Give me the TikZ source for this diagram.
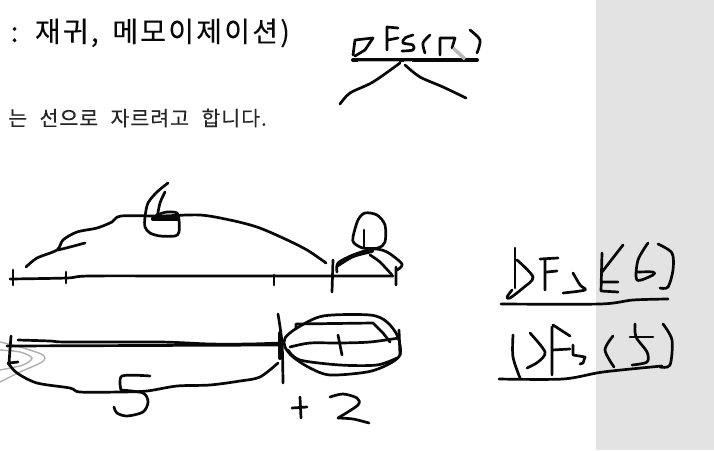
\documentclass[tikz,border=0pt]{standalone}
\usepackage{fontspec}
\usepackage{xcolor}
\usetikzlibrary{positioning}
\newfontfamily\krhead[WordSpace=1.6,LetterSpace=8,FakeBold=0.2]{Noto Sans CJK KR}
\newfontfamily\krnote[WordSpace=2.2,LetterSpace=5,FakeBold=0.2]{Noto Sans CJK KR}
\definecolor{panelgray}{RGB}{227,227,227}
\definecolor{ripplegray}{RGB}{175,175,175}
\definecolor{cursorgray}{RGB}{185,185,185}
\definecolor{inkblack}{RGB}{8,8,8}

\begin{document}
\begin{tikzpicture}[
  x=1pt, y=-1pt,
  ink/.style={draw=inkblack, line width=2.7pt, line cap=round, line join=round},
  heavy/.style={ink, line width=4pt},
  ripple/.style={draw=ripplegray, line width=1.4pt},
  heading/.style={font=\krhead\fontsize{28}{32}\selectfont, text=inkblack, inner sep=0pt, anchor=east},
  subline/.style={font=\krnote\fontsize{20.5}{24}\selectfont, text=black!85, inner sep=0pt, anchor=east},
]
\useasboundingbox (0,0) rectangle (714,450);
\clip (0,0) rectangle (714,450);
\fill[white] (0,0) rectangle (714,450);
\fill[panelgray] (596,0) rectangle (714,450);

\node[heading] (titleText) at (290,33) {: 재귀, 메모이제이션)};
\node[subline] (noteText) at (267,118) {는 선으로 자르려고 합니다.};

% top right
\draw[ink] (353,55) -- (355,40) -- (373,38) -- (365,50) -- (355,56);
\draw[ink] (387,50) -- (387,27) -- (398,28) (388,40) -- (398,38);
\draw[ink] plot[smooth] coordinates {(413,35) (405,38) (403,43) (413,45) (413,50) (402,51)};
\draw[ink] plot[smooth] coordinates {(430,35) (423,43) (425,53)};
\draw[ink] (440,55) -- (440,38) -- (455,38) -- (452,48);
\draw[ink] plot[smooth] coordinates {(470,30) (480,40) (477,53)};
\draw[heavy] (353,60) -- (477,60);
\draw[cursorgray, line width=1pt] (358,61) -- (399,61) (404,61) -- (412,61);
\draw[cursorgray, line width=3.5pt] (453,48) -- (465,59);
\draw[ink] plot[smooth] coordinates {(400,63) (373,82) (350,93) (340,104)};
\draw[ink] plot[smooth] coordinates {(405,65) (420,77) (443,87) (466,98)};

% upper line
\draw[ink] plot[smooth] coordinates {(10,279) (67,278) (90,276) (200,276) (393,276)};
\draw[ink] (13,270) -- (13,285) (66,272) -- (66,283) (274,275) -- (274,285);
\draw[ink] (333,260) -- (332,292) (396,267) -- (396,285);
\draw[ink] plot[smooth] coordinates {(26,267) (37,258) (57,250) (63,240) (77,232) (97,228) (112,222) (121,216) (160,216) (200,215) (230,220) (257,227) (283,238) (307,250) (326,263)};
\draw[ink] plot[smooth] coordinates {(58,250) (70,247) (85,243)};
\draw[ink] plot[smooth] coordinates {(168,183) (157,192) (148,203) (145,217) (145,227) (150,233) (160,236) (175,236) (179,232) (179,220) (177,213) (167,212) (157,215) (152,219)};
\draw[ink] plot[smooth] coordinates {(165,192) (160,203) (157,218)};
\draw[heavy] (153,219) -- (177,219);
\draw[ink] plot[smooth] coordinates {(337,272) (338,263) (353,255) (373,249) (387,252) (402,264) (397,270)};
\draw[heavy] plot[smooth] coordinates {(338,265) (353,256) (372,251)};
\draw[ink] plot[smooth] coordinates {(370,255) (380,262) (392,275)};
\draw[ink] plot[smooth cycle] coordinates {(353,237) (358,220) (365,213) (377,215) (385,225) (385,242) (378,248) (363,248) (354,243)};
\draw[ink] (364,230) -- (364,247);

% lower line
\draw[ripple] plot[smooth] coordinates {(0,342) (20,347) (43,355) (42,362) (20,372) (0,382)};
\draw[ripple] plot[smooth] coordinates {(0,350) (20,352) (32,358) (23,365) (0,370)};
\draw[ink] plot[smooth] coordinates {(18,340) (50,341) (67,342) (160,342) (210,344) (250,344) (280,343)};
\draw[ink] (7,346) -- (280,345);
\draw[ink] (11,336) -- (9,363) -- (18,362);
\draw[ink] plot[smooth] coordinates {(8,363) (17,373) (37,383) (70,388) (80,392) (120,392) (147,391) (177,386) (210,385) (240,381) (260,377) (278,363)};
\draw[ink] plot[smooth] coordinates {(150,376) (122,376) (121,390)};
\draw[ink] plot[smooth] coordinates {(121,390) (143,393) (148,402) (143,412) (127,416) (117,413) (114,407)};
\draw[ink] plot[smooth] coordinates {(278,314) (282,343) (283,383)};
\draw[heavy] (280,333) -- (280,358);
\draw[ink] plot[smooth cycle] coordinates {(285,338) (297,328) (323,316) (370,315) (387,322) (398,337) (400,355) (387,365) (367,372) (330,375) (310,368) (293,357) (285,347)};
\draw[ink] (296,328) -- (296,324) -- (373,323) -- (383,333) -- (390,342);
\draw[ink] plot[smooth] coordinates {(288,350) (300,360) (340,365) (377,365) (397,358)};
\draw[ink] plot[smooth] coordinates {(290,347) (310,343) (340,343) (370,342) (399,338)};
\draw[ink] (399,330) -- (400,355) (338,335) -- (342,355);
\draw[ink] (292,408) -- (307,407) (300,397) -- (301,418);
\draw[ink] plot[smooth] coordinates {(330,397) (343,394) (357,398) (358,405) (338,418)};
\draw[ink] plot[smooth] coordinates {(338,418) (353,419) (369,423)};

% right side
\draw[ink] (515,248) -- (515,288);
\draw[ink] plot[smooth] coordinates {(517,260) (533,277) (523,288) (510,298) (507,297) (512,290)};
\draw[ink] (545,260) -- (545,290) (540,259) -- (558,258) (547,272) -- (557,271);
\draw[ink] plot[smooth] coordinates {(573,273) (580,285) (585,290) (563,293)};
\draw[ink] (602,253) -- (601,291) -- (618,292) (603,282) -- (618,282) (602,272) -- (623,245);
\draw[ink] plot[smooth] coordinates {(648,243) (638,260) (637,280) (653,275) (653,272) (638,272)};
\draw[ink] plot[smooth] coordinates {(658,244) (672,253) (673,270) (668,287) (660,288)};
\draw[ink] plot[smooth] coordinates {(501,304) (600,304) (633,300) (668,299)};
\draw[ink] plot[smooth] coordinates {(513,335) (513,357) (520,378)};
\draw[ink] plot[smooth] coordinates {(530,333) (545,352) (538,362) (527,368)};
\draw[ink] (552,327) -- (552,375) (553,325) -- (570,336) (552,350) -- (570,349);
\draw[ink] (573,345) -- (573,355) -- (585,357) -- (583,363) -- (580,364);
\draw[ink] plot[smooth] coordinates {(613,336) (605,350) (614,367)};
\draw[ink] (630,337) -- (653,337);
\draw[ink] plot[smooth] coordinates {(635,324) (636,337) (647,352) (647,362) (632,365)};
\draw[ink] plot[smooth] coordinates {(663,324) (672,340) (670,365) (660,367)};
\draw[ink] plot[smooth] coordinates {(499,379) (563,379) (603,372) (662,366)};
\end{tikzpicture}
\end{document}
